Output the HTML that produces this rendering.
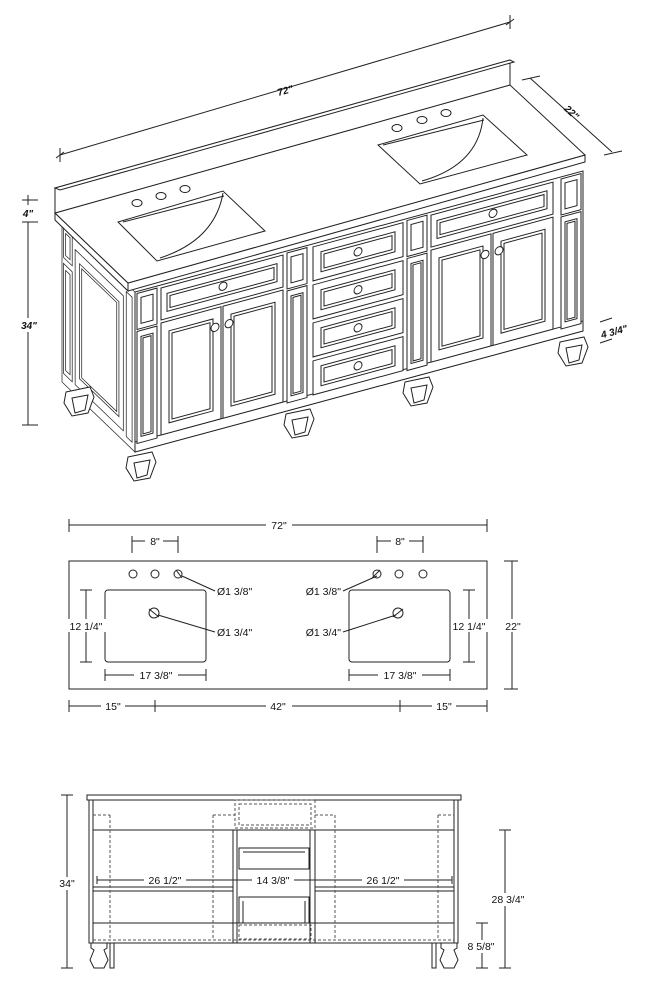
<!DOCTYPE html>
<html><head><meta charset="utf-8"><style>
html,body{margin:0;padding:0;background:#fff;}
svg{display:block;}
text{font-family:"Liberation Sans",sans-serif;fill:#111;}
</style></head><body>
<svg width="646" height="990" viewBox="0 0 646 990" xmlns="http://www.w3.org/2000/svg">
<g fill="none" stroke="#222" stroke-width="1">

<!-- ===== ISOMETRIC VIEW ===== -->
<!-- dimension 72 -->
<line x1="60" y1="155" x2="510" y2="22"/>
<line x1="60" y1="148" x2="60" y2="162"/><line x1="510" y1="15" x2="510" y2="29"/>
<line x1="56" y1="158" x2="64" y2="152"/><line x1="506" y1="25" x2="514" y2="19"/>
<!-- 22 -->
<line x1="530" y1="78" x2="612" y2="152"/>
<line x1="522" y1="80" x2="540" y2="76"/><line x1="604" y1="155" x2="622" y2="151"/>
<!-- 4 / 34 -->
<line x1="22" y1="200" x2="38" y2="200"/><line x1="22" y1="222" x2="38" y2="222"/>
<line x1="28" y1="222" x2="28" y2="425"/><line x1="22" y1="425" x2="38" y2="425"/>
<line x1="28" y1="195" x2="28" y2="205"/>
<!-- 4 3/4 -->
<line x1="600" y1="322" x2="612" y2="318"/><line x1="600" y1="343" x2="612" y2="339"/>

<!-- side face -->
<g transform="matrix(-0.73,-0.70,0,1,135,292)" fill="#fff">
<rect x="0" y="0" width="100" height="160"/>
<rect x="4" y="8" width="8" height="145"/>
<rect x="86" y="4" width="12" height="30"/><rect x="89" y="8" width="6" height="22"/>
<rect x="86" y="40" width="12" height="110"/><rect x="89" y="45" width="6" height="100"/>
<rect x="16" y="15" width="66" height="135"/>
<rect x="22" y="25" width="54" height="115"/>
<rect x="25" y="28" width="48" height="109"/>
</g>

<!-- front face -->
<g transform="matrix(1,-0.27,0,1,135,292)" fill="#fff">
<rect x="0" y="0" width="448" height="160"/>
<rect x="0" y="150" width="448" height="10"/>
<!-- pilasters -->
<g id="pil">
<rect x="2" y="2" width="20" height="36"/><rect x="6" y="7" width="12" height="26"/>
<rect x="2" y="40" width="20" height="112"/><rect x="6" y="46" width="12" height="100"/><rect x="8" y="48" width="8" height="96"/>
</g>
<use href="#pil" x="150"/><use href="#pil" x="270"/><use href="#pil" x="424"/>
<!-- left section -->
<g id="sect">
<rect x="26" y="3" width="122" height="32"/><rect x="32" y="10" width="110" height="18"/><rect x="35" y="13" width="104" height="12"/>
<circle cx="88" cy="18" r="4"/>
<rect x="26" y="38" width="60" height="112"/><rect x="34" y="48" width="44" height="92"/><rect x="37" y="51" width="38" height="86"/>
<rect x="88" y="38" width="60" height="112"/><rect x="96" y="48" width="44" height="92"/><rect x="99" y="51" width="38" height="86"/>
<circle cx="80" cy="57" r="4"/><circle cx="94" cy="57" r="4"/>
</g>
<use href="#sect" x="270"/>
<!-- center drawers -->
<g id="drw">
<rect x="178" y="3" width="90" height="34"/><rect x="186" y="10" width="74" height="20"/><rect x="189" y="13" width="68" height="14"/>
<circle cx="223" cy="20" r="4"/>
</g>
<use href="#drw" y="38"/><use href="#drw" y="76"/><use href="#drw" y="114"/>
</g>

<!-- feet -->
<g fill="#fff" id="foot">
<path d="M128,457 L152,452 L156,462 L150,478 L134,481 L126,468 Z"/>
<path d="M134,463 L150,460 L147,475 L137,478 Z"/>
</g>
<use href="#foot" x="158" y="-43"/>
<use href="#foot" x="277" y="-75"/>
<use href="#foot" x="432" y="-115"/>
<use href="#foot" x="-62" y="-65"/>

<!-- countertop -->
<polygon points="128,283 585,155 585,162 128,291" fill="#fff"/>
<polygon points="55,213 128,283 128,291 55,220" fill="#fff"/>
<polygon points="128,283 585,155 510,85 55,213" fill="#fff"/>
<!-- backsplash -->
<polygon points="55,213 510,85 510,60 55,188" fill="#fff"/>
<polygon points="55,188 510,60 514,62 60,190" fill="#fff"/>
<!-- sinks -->
<polygon points="118,222 223,191 265,231 157,261" fill="#fff"/>
<path d="M223,193 Q215,240 160,258"/>
<line x1="123" y1="222" x2="224" y2="196"/>
<polygon points="378,145 483,115 527,155 420,184" fill="#fff"/>
<path d="M483,118 Q478,165 422,181"/>
<line x1="383" y1="145" x2="484" y2="120"/>
<ellipse cx="137" cy="203" rx="5" ry="3.5"/><ellipse cx="161" cy="196" rx="5" ry="3.5"/><ellipse cx="185" cy="189" rx="5" ry="3.5"/>
<ellipse cx="397" cy="128" rx="5" ry="3.5"/><ellipse cx="422" cy="120" rx="5" ry="3.5"/><ellipse cx="446" cy="113" rx="5" ry="3.5"/>

<!-- ===== TOP VIEW ===== -->
<rect x="69" y="561" width="418" height="128"/>
<line x1="69" y1="525" x2="487" y2="525"/><line x1="69" y1="519" x2="69" y2="532"/><line x1="487" y1="519" x2="487" y2="532"/>
<line x1="132" y1="541" x2="178" y2="541"/><line x1="132" y1="536" x2="132" y2="553"/><line x1="178" y1="536" x2="178" y2="553"/>
<line x1="377" y1="541" x2="423" y2="541"/><line x1="377" y1="536" x2="377" y2="553"/><line x1="423" y1="536" x2="423" y2="553"/>
<circle cx="133" cy="574" r="4"/><circle cx="155" cy="574" r="4"/><circle cx="178" cy="574" r="4"/>
<circle cx="377" cy="574" r="4"/><circle cx="399" cy="574" r="4"/><circle cx="423" cy="574" r="4"/>
<rect x="105" y="590" width="101" height="72" rx="3"/>
<rect x="349" y="590" width="101" height="72" rx="3"/>
<circle cx="154" cy="613" r="5"/><circle cx="398" cy="613" r="5"/>
<line x1="176" y1="570" x2="182" y2="578"/><line x1="372" y1="578" x2="380" y2="570"/>
<line x1="149" y1="609" x2="159" y2="617"/><line x1="393" y1="617" x2="403" y2="609"/>
<line x1="182" y1="576" x2="215" y2="591"/>
<line x1="158" y1="615" x2="215" y2="632"/>
<line x1="377" y1="576" x2="343" y2="591"/>
<line x1="396" y1="615" x2="343" y2="632"/>
<line x1="86" y1="590" x2="86" y2="662"/><line x1="80" y1="590" x2="92" y2="590"/><line x1="80" y1="662" x2="92" y2="662"/>
<line x1="469" y1="590" x2="469" y2="662"/><line x1="463" y1="590" x2="475" y2="590"/><line x1="463" y1="662" x2="475" y2="662"/>
<line x1="512" y1="561" x2="512" y2="689"/><line x1="504" y1="561" x2="518" y2="561"/><line x1="504" y1="689" x2="518" y2="689"/>
<line x1="105" y1="675" x2="206" y2="675"/><line x1="105" y1="669" x2="105" y2="681"/><line x1="206" y1="669" x2="206" y2="681"/>
<line x1="349" y1="675" x2="450" y2="675"/><line x1="349" y1="669" x2="349" y2="681"/><line x1="450" y1="669" x2="450" y2="681"/>
<line x1="69" y1="706" x2="487" y2="706"/>
<line x1="69" y1="700" x2="69" y2="712"/><line x1="155" y1="700" x2="155" y2="712"/><line x1="400" y1="700" x2="400" y2="712"/><line x1="487" y1="700" x2="487" y2="712"/>

<!-- ===== FRONT ELEVATION ===== -->
<rect x="87" y="795" width="374" height="5"/>
<rect x="89" y="800" width="369" height="143"/>
<line x1="93" y1="800" x2="93" y2="943"/><line x1="454" y1="800" x2="454" y2="943"/>
<line x1="93" y1="830" x2="454" y2="830"/>
<line x1="93" y1="887" x2="233" y2="887"/><line x1="93" y1="891" x2="233" y2="891"/>
<line x1="315" y1="887" x2="454" y2="887"/><line x1="315" y1="891" x2="454" y2="891"/>
<line x1="93" y1="923" x2="454" y2="923"/>
<rect x="233" y="830" width="4" height="113"/><rect x="310" y="830" width="5" height="113"/>
<rect x="239" y="848" width="70" height="21"/><line x1="243" y1="852" x2="305" y2="852"/>
<rect x="239" y="897" width="70" height="26"/><line x1="243" y1="901" x2="243" y2="923"/><line x1="305" y1="901" x2="305" y2="923"/>
<g stroke-dasharray="3,2" stroke="#555">
<rect x="235" y="800" width="80" height="28"/><rect x="239" y="804" width="72" height="21"/>
<rect x="239" y="925" width="72" height="14"/>
<line x1="93" y1="940" x2="454" y2="940"/>
<line x1="93" y1="815" x2="110" y2="815"/><line x1="110" y1="815" x2="110" y2="940"/>
<line x1="213" y1="815" x2="235" y2="815"/><line x1="213" y1="815" x2="213" y2="940"/>
<line x1="315" y1="815" x2="335" y2="815"/><line x1="335" y1="815" x2="335" y2="940"/>
<line x1="438" y1="815" x2="454" y2="815"/><line x1="438" y1="815" x2="438" y2="940"/>
</g>
<path d="M91,943 L107,943 L107,948 L104,950 L108,960 L104,968 L94,968 L90,960 L94,950 L91,948 Z" fill="#fff"/>
<path d="M441,943 L457,943 L457,948 L454,950 L458,960 L454,968 L444,968 L440,960 L444,950 L441,948 Z" fill="#fff"/>
<rect x="110" y="943" width="4" height="25"/><rect x="432" y="943" width="4" height="25"/>
<line x1="67" y1="795" x2="67" y2="968"/><line x1="61" y1="795" x2="73" y2="795"/><line x1="61" y1="968" x2="73" y2="968"/>
<line x1="505" y1="830" x2="505" y2="968"/><line x1="499" y1="830" x2="511" y2="830"/><line x1="499" y1="968" x2="511" y2="968"/>
<line x1="482" y1="923" x2="482" y2="968"/><line x1="476" y1="923" x2="488" y2="923"/><line x1="476" y1="968" x2="488" y2="968"/>
<line x1="97" y1="880" x2="452" y2="880"/>
<line x1="97" y1="876" x2="97" y2="884"/><line x1="233" y1="876" x2="233" y2="884"/><line x1="237" y1="876" x2="237" y2="884"/><line x1="310" y1="876" x2="310" y2="884"/><line x1="315" y1="876" x2="315" y2="884"/><line x1="452" y1="876" x2="452" y2="884"/>
</g>

<!-- labels -->
<g font-size="11" text-anchor="middle">
<text x="285" y="94" font-style="italic" font-size="10" font-weight="bold" transform="rotate(-16 285 90)">72"</text>
<text x="572" y="116" font-style="italic" font-size="10" font-weight="bold" transform="rotate(43 572 112)">22"</text>
<text x="28" y="217" font-style="italic" font-size="10" font-weight="bold" fill="#fff" stroke="none"></text>
<rect x="20" y="207" width="16" height="12" fill="#fff"/>
<text x="28" y="217" font-style="italic" font-size="10" font-weight="bold">4"</text>
<rect x="18" y="318" width="22" height="14" fill="#fff"/>
<text x="29" y="329" font-style="italic" font-size="10" font-weight="bold">34"</text>
<text x="614" y="335" font-style="italic" font-size="10" font-weight="bold" transform="rotate(-15 614 331)">4 3/4"</text>
</g>
<g font-size="10.5" text-anchor="middle">
<rect x="266" y="519" width="26" height="12" fill="#fff"/><text x="279" y="529">72"</text>
<rect x="145" y="535" width="18" height="12" fill="#fff"/><text x="155" y="545">8"</text>
<rect x="391" y="535" width="18" height="12" fill="#fff"/><text x="400" y="545">8"</text>
<text x="217" y="595" text-anchor="start">Ø1 3/8"</text>
<text x="217" y="636" text-anchor="start">Ø1 3/4"</text>
<text x="341" y="595" text-anchor="end">Ø1 3/8"</text>
<text x="341" y="636" text-anchor="end">Ø1 3/4"</text>
<rect x="68" y="619" width="38" height="13" fill="#fff"/><text x="86" y="630">12 1/4"</text>
<rect x="451" y="619" width="38" height="13" fill="#fff"/><text x="469" y="630">12 1/4"</text>
<rect x="503" y="619" width="22" height="13" fill="#fff"/><text x="513" y="630">22"</text>
<rect x="134" y="669" width="44" height="12" fill="#fff"/><text x="156" y="679">17 3/8"</text>
<rect x="378" y="669" width="44" height="12" fill="#fff"/><text x="400" y="679">17 3/8"</text>
<rect x="101" y="700" width="24" height="12" fill="#fff"/><text x="113" y="710">15"</text>
<rect x="266" y="700" width="26" height="12" fill="#fff"/><text x="278" y="710">42"</text>
<rect x="432" y="700" width="24" height="12" fill="#fff"/><text x="444" y="710">15"</text>
<rect x="55" y="877" width="24" height="13" fill="#fff"/><text x="67" y="887">34"</text>
<rect x="144" y="874" width="42" height="12" fill="#fff"/><text x="165" y="884">26 1/2"</text>
<rect x="252" y="874" width="42" height="12" fill="#fff"/><text x="273" y="884">14 3/8"</text>
<rect x="362" y="874" width="42" height="12" fill="#fff"/><text x="383" y="884">26 1/2"</text>
<rect x="488" y="893" width="40" height="13" fill="#fff"/><text x="508" y="903">28 3/4"</text>
<rect x="466" y="940" width="32" height="13" fill="#fff"/><text x="481" y="950">8 5/8"</text>
</g>
</svg>
</body></html>
